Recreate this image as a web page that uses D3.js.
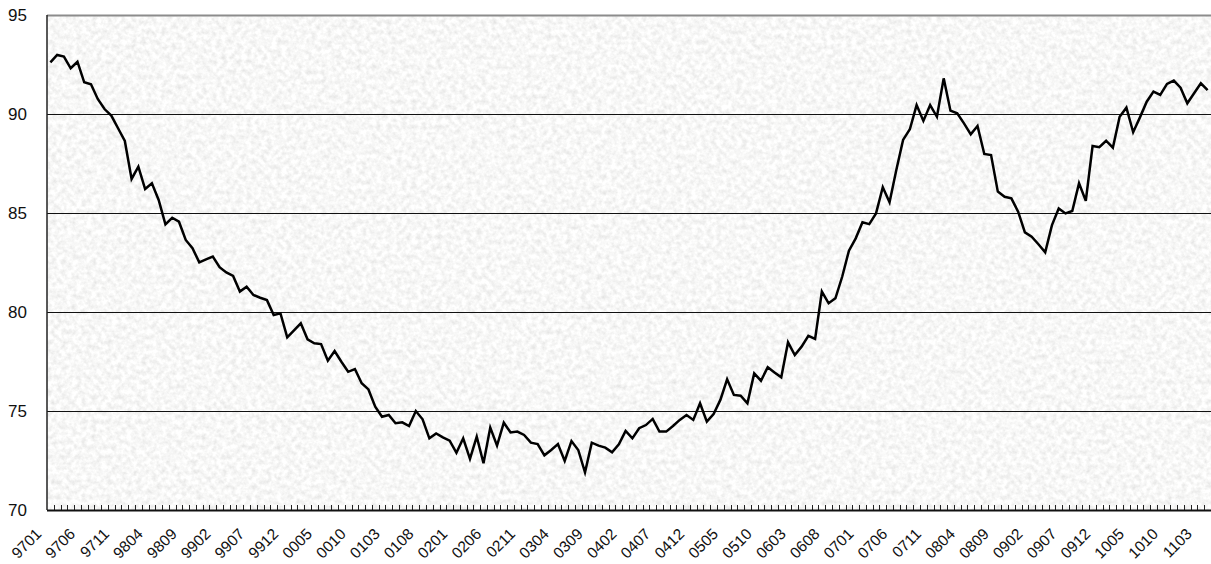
<!DOCTYPE html>
<html>
<head>
<meta charset="utf-8">
<script src="https://cdn.jsdelivr.net/npm/d3@7"></script>
<style>
  html, body { margin: 0; padding: 0; background: #ffffff; }
  svg { display: block; }
  text { font-family: "Liberation Sans", Arial, sans-serif; fill: #111; }
</style>
</head>
<body>
<div id="chart"></div>
<script>
// Monthly index, Jan 1997 (9701) .. Apr 2011 (1104)
const startYear = 1997, startMonth = 1, monthCount = 172;
const categories = [];
for (let i = 0; i < monthCount; i++) {
    const m = startMonth - 1 + i;
    const yy = (startYear + Math.floor(m / 12)) % 100;
    const mm = (m % 12) + 1;
    categories.push(String(yy).padStart(2, "0") + String(mm).padStart(2, "0"));
}

// Values
const values = [
    92.61, 92.98, 92.90, 92.31, 92.64, 91.60, 91.50, 90.76, 90.25, 89.92,
    89.28, 88.64, 86.72, 87.34, 86.21, 86.50, 85.66, 84.43, 84.76, 84.56,
    83.64, 83.22, 82.51, 82.66, 82.80, 82.26, 82.00, 81.82, 81.03, 81.28,
    80.86, 80.72, 80.60, 79.85, 79.93, 78.72, 79.07, 79.43, 78.62, 78.42,
    78.38, 77.54, 78.03, 77.49, 76.98, 77.12, 76.40, 76.09, 75.22, 74.71,
    74.80, 74.38, 74.43, 74.24, 75.00, 74.58, 73.62, 73.87, 73.67, 73.50,
    72.89, 73.62, 72.58, 73.70, 72.36, 74.16, 73.25, 74.41, 73.92, 73.96,
    73.79, 73.40, 73.33, 72.76, 73.03, 73.33, 72.48, 73.48, 73.03, 71.90,
    73.40, 73.25, 73.15, 72.91, 73.32, 73.99, 73.62, 74.13, 74.29, 74.60,
    73.96, 73.96, 74.24, 74.55, 74.80, 74.55, 75.39, 74.46, 74.85, 75.56,
    76.60, 75.81, 75.77, 75.39, 76.90, 76.53, 77.21, 76.95, 76.70, 78.47,
    77.83, 78.25, 78.80, 78.64, 81.03, 80.44, 80.69, 81.78, 83.10, 83.72,
    84.53, 84.44, 84.98, 86.30, 85.54, 87.17, 88.69, 89.23, 90.45, 89.65,
    90.45, 89.86, 91.80, 90.17, 90.04, 89.53, 88.97, 89.39, 87.98, 87.93,
    86.08, 85.82, 85.74, 85.07, 84.02, 83.80, 83.42, 83.01, 84.39, 85.23,
    84.98, 85.10, 86.50, 85.61, 88.38, 88.32, 88.65, 88.30, 89.86, 90.32,
    89.08, 89.83, 90.62, 91.13, 90.96, 91.52, 91.69, 91.33, 90.54, 91.05,
    91.55, 91.21
];

// Axis labels
const xTickLabels = [
    "9701", "9706", "9711", "9804", "9809", "9902", "9907", "9912", "0005", "0010",
    "0103", "0108", "0201", "0206", "0211", "0304", "0309", "0402", "0407", "0412",
    "0505", "0510", "0603", "0608", "0701", "0706", "0711", "0804", "0809", "0902",
    "0907", "0912", "1005", "1010", "1103"
];
const yTickValues = [70, 75, 80, 85, 90, 95];

function create_line_chart(width, height) {
    const margin = { top: 15, right: 0, bottom: 54, left: 47 };
    const innerWidth = width - margin.left - margin.right;
    const innerHeight = height - margin.top - margin.bottom;

    const svg = d3.select("#chart").append("svg")
        .attr("width", width)
        .attr("height", height);

    // fine granite-like texture for the plot background
    const defs = svg.append("defs");
    const filter = defs.append("filter")
        .attr("id", "granite")
        .attr("x", 0).attr("y", 0).attr("width", 1).attr("height", 1);
    filter.append("feTurbulence")
        .attr("type", "fractalNoise")
        .attr("baseFrequency", 0.2)
        .attr("numOctaves", 3)
        .attr("seed", 7)
        .attr("result", "noise");
    filter.append("feColorMatrix")
        .attr("in", "noise")
        .attr("type", "matrix")
        .attr("values",
            "0.38 0 0 0 0.745  0.38 0 0 0 0.745  0.38 0 0 0 0.738  0 0 0 0 1")
        .attr("result", "grey");
    filter.append("feComposite")
        .attr("in", "grey")
        .attr("in2", "SourceGraphic")
        .attr("operator", "in");

    const g = svg.append("g")
        .attr("transform", "translate(" + margin.left + "," + margin.top + ")");

    const x = d3.scaleBand()
        .domain(categories)
        .range([0, innerWidth])
        .padding(0);

    const y = d3.scaleLinear()
        .domain([70, 95])
        .range([innerHeight, 0]);

    g.append("rect")
        .attr("width", innerWidth)
        .attr("height", innerHeight)
        .attr("fill", "#ebebe9")
        .attr("filter", "url(#granite)");

    // horizontal gridlines
    g.selectAll(".grid")
        .data(yTickValues.filter(d => d > 70 && d < 95))
        .enter().append("line")
        .attr("x1", 0)
        .attr("x2", innerWidth)
        .attr("y1", d => Math.round(y(d)) + 0.5)
        .attr("y2", d => Math.round(y(d)) + 0.5)
        .attr("stroke", "#111")
        .attr("stroke-width", 1);

    // top border
    g.append("line")
        .attr("x1", 0).attr("x2", innerWidth)
        .attr("y1", 0.5).attr("y2", 0.5)
        .attr("stroke", "#8c8c8c")
        .attr("stroke-width", 2);

    // data line
    const line = d3.line()
        .x(d => x(d.cat) + x.bandwidth() / 2)
        .y(d => y(d.val));

    g.append("path")
        .datum(categories.map((c, i) => ({ cat: c, val: values[i] })))
        .attr("fill", "none")
        .attr("stroke", "#000")
        .attr("stroke-width", 2.5)
        .attr("stroke-linejoin", "miter")
        .attr("d", line);

    // y axis labels
    const yAxis = d3.axisLeft(y)
        .tickValues(yTickValues)
        .tickSize(0)
        .tickPadding(20)
        .tickFormat(d3.format("d"));
    const yg = g.append("g").call(yAxis);
    yg.select(".domain").remove();
    yg.selectAll("text")
        .style("font-size", "17px")
        .attr("font-family", null)
        .attr("fill", "#111");

    // left axis line
    g.append("line")
        .attr("x1", 0).attr("x2", 0)
        .attr("y1", 0).attr("y2", innerHeight)
        .attr("stroke", "#222")
        .attr("stroke-width", 1.5);

    // bottom axis with minor ticks between categories
    const xg = g.append("g")
        .attr("transform", "translate(0," + innerHeight + ")");
    xg.selectAll(".minor")
        .data(categories.slice(1))
        .enter().append("line")
        .attr("x1", d => Math.round(x(d)) + 0.5)
        .attr("x2", d => Math.round(x(d)) + 0.5)
        .attr("y1", -5)
        .attr("y2", 0)
        .attr("stroke", "#222")
        .attr("stroke-width", 1);
    xg.append("line")
        .attr("x1", 0).attr("x2", innerWidth)
        .attr("y1", 0.5).attr("y2", 0.5)
        .attr("stroke", "#111")
        .attr("stroke-width", 2);

    xg.selectAll(".xlabel")
        .data(xTickLabels)
        .enter().append("text")
        .attr("text-anchor", "end")
        .attr("transform", d =>
            "translate(" + (x(d) + x.bandwidth() / 2 - 8) + ",25) rotate(-45)")
        .style("font-size", "15.5px")
        .text(d => d);
}

create_line_chart(1211, 564);
</script>
</body>
</html>
